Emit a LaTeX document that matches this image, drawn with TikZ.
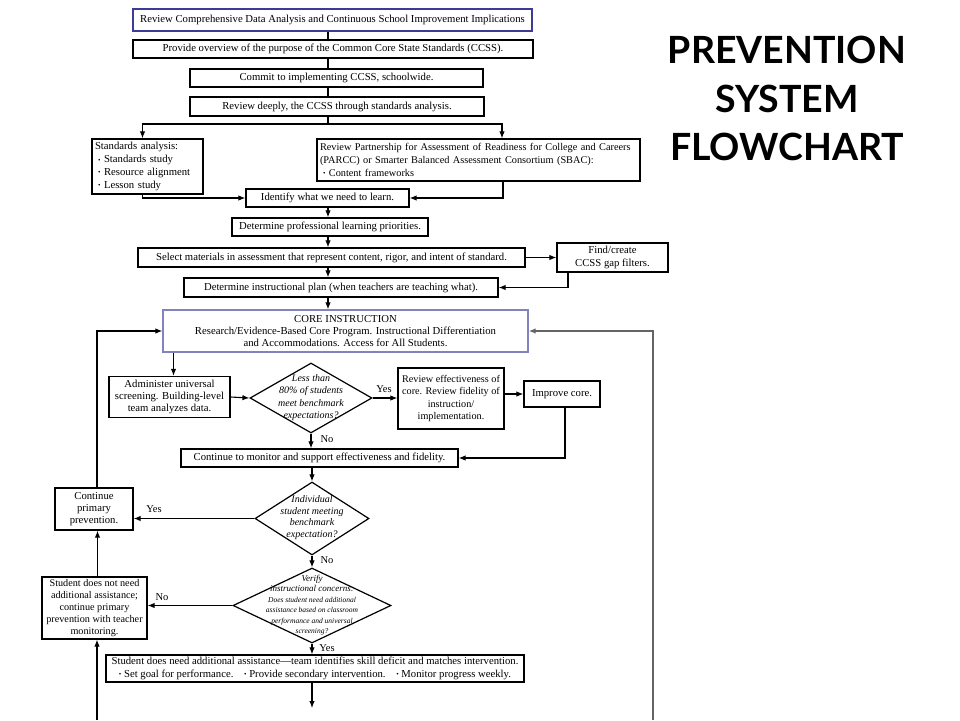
\documentclass[tikz,border=0pt]{standalone}
\usepackage{fontspec}
\setmainfont{Liberation Serif}
\newfontfamily\titlefont{Lato}
\usetikzlibrary{shapes.geometric,arrows.meta}
\definecolor{topblue}{RGB}{60,60,150}
\definecolor{coreblue}{RGB}{130,130,190}
\definecolor{loopgray}{RGB}{100,100,100}
\begin{document}
\begin{tikzpicture}[x=1pt,y=-1pt,
  box/.style={draw, line width=1.3pt, inner sep=0pt, align=center, font=\fontsize{10.7}{12.3}\selectfont},
  arr/.style={line width=1.1pt, -{Latex[length=7pt,width=5.5pt]}},
  ln/.style={line width=1.1pt},
  dia/.style={draw, diamond, line width=1.2pt, inner sep=0pt},
  dtext/.style={align=center, font=\itshape\fontsize{10}{12.2}\selectfont, inner sep=0pt},
  lbl/.style={font=\fontsize{10.5}{12}\selectfont, inner sep=0pt},
  ttl/.style={font=\titlefont\bfseries\fontsize{37.5}{45}\selectfont, inner sep=0pt, anchor=base}]
\useasboundingbox (0,0) rectangle (960,720);
\newcommand{\bul}{{\fontsize{7}{7}\selectfont\raisebox{0.6pt}{•}}}
% title
\node[ttl] (t1) at (787,63) {PREVENTION};
\node[ttl] (t2) at (787,112) {SYSTEM};
\node[ttl] (t3) at (787,160) {FLOWCHART};
% columns
\coordinate (col) at (328,0);
\coordinate (col2) at (312,0);
% top boxes
\node[box, draw=topblue, line width=1.9pt, minimum width=399, minimum height=22] (top) at (332.5,20) {Review Comprehensive Data Analysis and Continuous School Improvement Implications};
\node[box, minimum width=400, minimum height=18] (ov) at (333,49) {Provide overview of the purpose of the Common Core State Standards (CCSS).};
\node[box, minimum width=293, minimum height=18] (cm) at (336.5,78) {Commit to implementing CCSS, schoolwide.};
\node[box, minimum width=294, minimum height=19] (dp) at (337,106.5) {Review deeply, the CCSS through standards analysis.};
\node[box, align=left, text width=105, inner xsep=3, minimum height=55, font=\fontsize{10.7}{12.8}\selectfont] (std) at (147.5,166.5) {Standards analysis:\\\hspace*{3pt}\bul\ Standards study\\\hspace*{3pt}\bul\ Resource alignment\\\hspace*{3pt}\bul\ Lesson study};
\node[box, align=left, text width=317, inner xsep=3, minimum height=42, font=\fontsize{10.3}{12.6}\selectfont] (part) at (478.5,160) {Review Partnership for Assessment of Readiness for College and Careers\\(PARCC) or Smarter Balanced Assessment Consortium (SBAC):\\\hspace*{3pt}\bul\ Content frameworks};
\node[box, minimum width=163, minimum height=18] (idf) at (327.5,198) {Identify what we need to learn.};
\node[box, minimum width=196, minimum height=18] (pri) at (330,227) {Determine professional learning priorities.};
\node[box, minimum width=387, minimum height=19] (sel) at (331.5,257.5) {Select materials in assessment that represent content, rigor, and intent of standard.};
\node[box, minimum width=111, minimum height=29] (fnd) at (612.5,257.5) {Find/create\\CCSS gap filters.};
\node[box, minimum width=314, minimum height=19] (pln) at (341,287.5) {Determine instructional plan (when teachers are teaching what).};
\node[box, draw=coreblue, line width=1.3pt, minimum width=365, minimum height=42] (core) at (345.5,331) {CORE INSTRUCTION\\Research/Evidence-Based Core Program. Instructional Differentiation\\and Accommodations. Access for All Students.};
\node[box, minimum width=121, minimum height=41] (adm) at (169.5,397) {Administer universal\\screening. Building-level\\team analyzes data.};
\node[dia, minimum width=122, minimum height=70] (d1) at (311,398) {};
\node[dtext] (d1t) at (311,397.5) {Less than\\80\% of students\\meet benchmark\\expectations?};
\node[box, minimum width=106, minimum height=61, font=\fontsize{10.2}{12.3}\selectfont] (rev) at (451,398.5) {Review effectiveness of\\core. Review fidelity of\\instruction/\\implementation.};
\node[box, minimum width=76, minimum height=26] (imp) at (562,394) {Improve core.};
\node[box, minimum width=277, minimum height=18] (mon) at (319.5,458) {Continue to monitor and support effectiveness and fidelity.};
\node[dia, minimum width=114, minimum height=73] (d2) at (312,518.5) {};
\node[dtext, font=\itshape\fontsize{10}{11.8}\selectfont] (d2t) at (312,517.5) {Individual\\student meeting\\benchmark\\expectation?};
\node[box, minimum width=78, minimum height=42] (cp) at (94,509) {Continue\\primary\\prevention.};
\node[box, minimum width=105, minimum height=62, font=\fontsize{10.2}{11.8}\selectfont] (nn) at (94.5,608) {Student does not need\\additional assistance;\\continue primary\\prevention with teacher\\monitoring.};
\node[dia, minimum width=158, minimum height=75] (d3) at (312,605.5) {};
\node[dtext, font=\itshape\fontsize{9}{10.5}\selectfont] (d3t) at (312,605) {Verify\\instructional concerns:\\\fontsize{7.5}{9}\selectfont Does student need additional\\\fontsize{7.5}{9}\selectfont assistance based on classroom\\\fontsize{7.5}{9}\selectfont performance and universal\\\fontsize{7.5}{9}\selectfont screening?};
\node[box, minimum width=418, minimum height=27] (need) at (315,668.5) {Student does need additional assistance—team identifies skill deficit and matches intervention.\\\bul\ Set goal for performance.\quad\bul\ Provide secondary intervention.\quad\bul\ Monitor progress weekly.};
% labels
\node[lbl] (y1) at (384,389) {Yes};
\node[lbl] (n1) at (327,439) {No};
\node[lbl] (y2) at (154,509) {Yes};
\node[lbl] (n2) at (327,560) {No};
\node[lbl] (n3) at (162,597) {No};
\node[lbl] (y3) at (327,648) {Yes};
% coordinates
\coordinate (sp) at (328,124);
\coordinate (bot) at (312,708);
\coordinate (lb) at (97,720);
\coordinate (rb) at (653,720);
% connectors top
\draw[ln] (top.south -| col) -- (ov.north -| col);
\draw[ln] (ov.south -| col) -- (cm.north -| col);
\draw[ln] (cm.south -| col) -- (dp.north -| col);
\draw[ln] (dp.south -| col) -- (sp);
\draw[arr] (sp) -| ([xshift=-5]std.north);
\draw[arr] (sp) -| ([xshift=23.5]part.north);
\draw[arr] ([xshift=-5]std.south) |- (idf.west);
\draw[arr] ([xshift=24.5]part.south) |- (idf.east);
\draw[arr] (idf.south -| col) -- (pri.north -| col);
\draw[arr] (pri.south -| col) -- (sel.north -| col);
\draw[arr] (sel.east) -- (fnd.west);
\draw[arr] ([xshift=-44.5]fnd.south) |- (pln.east);
\draw[arr] (sel.south -| col) -- (pln.north -| col);
\draw[arr] (pln.south -| col) -- (core.north -| col);
% core loop
\draw[arr] ([xshift=4]adm.north |- core.south) -- ([xshift=4]adm.north);
\draw[arr] (adm.east) -- (d1.west);
\draw[arr] (d1.east) -- (rev.west |- d1.east);
\draw[arr] (rev.east |- imp.west) -- (imp.west);
\draw[arr] ([xshift=3]imp.south) |- (mon.east);
\draw[arr] (d1.south) -- (mon.north -| d1.south);
\draw[arr] (mon.south -| col2) -- (d2.north);
\draw[arr] (d2.west) -- (d2.west -| cp.east);
\draw[arr] ([xshift=3]cp.north) |- (core.west);
\draw[arr] (d2.south) -- (d3.north);
\draw[arr] (d3.west) -- (d3.west -| nn.east);
\draw[arr] ([xshift=3]nn.north) -- ([xshift=3]nn.north |- cp.south);
\draw[arr] (lb) -- (lb |- nn.south);
\draw[arr] (d3.south) -- (need.north -| d3.south);
\draw[arr] (need.south -| col2) -- (bot);
\draw[arr, draw=loopgray, line width=1.5pt] (rb) |- (core.east);
\end{tikzpicture}
\end{document}
